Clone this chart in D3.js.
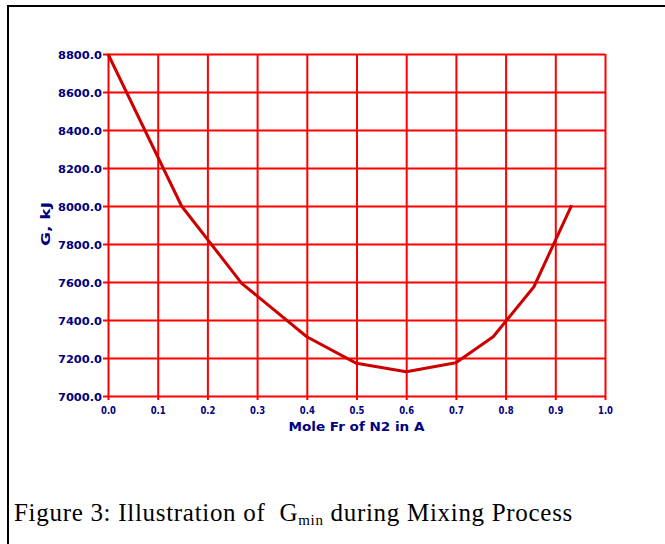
<!DOCTYPE html>
<html>
<head>
<meta charset="utf-8">
<script src="https://cdn.jsdelivr.net/npm/d3@7"></script>
<style>
  body { margin: 0; background: #fff; }
  svg { display: block; }
</style>
</head>
<body>
<svg id="chart" width="665" height="544"></svg>
<script>
// values
const moleFr = [0, 0.148, 0.269, 0.4, 0.5, 0.6, 0.7, 0.775, 0.857, 0.933];
const gibbs = [8800, 8000, 7593, 7312, 7172, 7128, 7175, 7312, 7575, 8005];
const xTicks = [0, 0.1, 0.2, 0.3, 0.4, 0.5, 0.6, 0.7, 0.8, 0.9, 1.0];
const yTicks = [7000, 7200, 7400, 7600, 7800, 8000, 8200, 8400, 8600, 8800];

const svg = d3.select("#chart");
const navy = "#000080";
const grid = "#ff0000";
const tickFont = "'DejaVu Sans Condensed', 'DejaVu Sans', sans-serif";

// frame round the figure
svg.append("rect")
  .attr("x", 8).attr("y", 6)
  .attr("width", 700).attr("height", 600)
  .attr("fill", "none")
  .attr("stroke", "#000")
  .attr("stroke-width", 2);

const plotL = 108, plotR = 605, plotT = 54, plotB = 396;

const x = d3.scaleLinear().domain([0, 1]).range([plotL, plotR]);
const y = d3.scaleLinear().domain([7000, 8800]).range([plotB, plotT]);

// x grid + ticks
const gx = svg.append("g")
  .attr("transform", `translate(0,${plotB})`)
  .call(d3.axisBottom(x).tickValues(xTicks).tickSize(0).tickFormat(""));
gx.select(".domain").remove();
gx.selectAll(".tick line")
  .attr("y1", 4)
  .attr("y2", -(plotB - plotT))
  .attr("stroke", grid)
  .attr("stroke-width", 2);
gx.selectAll(".tick").append("text")
  .attr("y", 18)
  .attr("fill", navy)
  .attr("text-anchor", "middle")
  .attr("font-family", tickFont)
  .attr("font-weight", "bold")
  .attr("font-size", 10)
  .attr("textLength", 15)
  .attr("lengthAdjust", "spacingAndGlyphs")
  .text(d => d3.format(".1f")(d));

// y grid + ticks
const gy = svg.append("g")
  .attr("transform", `translate(${plotL},0)`)
  .call(d3.axisLeft(y).tickValues(yTicks).tickSize(0).tickFormat(""));
gy.select(".domain").remove();
gy.selectAll(".tick line")
  .attr("x1", -5)
  .attr("x2", plotR - plotL)
  .attr("stroke", grid)
  .attr("stroke-width", 2);
gy.selectAll(".tick").append("text")
  .attr("x", -6)
  .attr("y", 4)
  .attr("fill", navy)
  .attr("text-anchor", "end")
  .attr("font-family", tickFont)
  .attr("font-weight", "bold")
  .attr("font-size", 10)
  .attr("textLength", 44)
  .attr("lengthAdjust", "spacingAndGlyphs")
  .text(d => d3.format(".1f")(d));

// axis titles
svg.append("text")
  .attr("x", x(0.5))
  .attr("y", 431)
  .attr("text-anchor", "middle")
  .attr("fill", navy)
  .attr("font-family", tickFont)
  .attr("font-weight", "bold")
  .attr("font-size", 12)
  .attr("textLength", 136)
  .attr("lengthAdjust", "spacingAndGlyphs")
  .text("Mole Fr of N2 in A");

svg.append("text")
  .attr("transform", "translate(50,224) rotate(-90)")
  .attr("text-anchor", "middle")
  .attr("fill", navy)
  .attr("font-family", tickFont)
  .attr("font-weight", "bold")
  .attr("font-size", 12)
  .attr("textLength", 44)
  .attr("lengthAdjust", "spacingAndGlyphs")
  .text("G, kJ");

// the curve
const line = d3.line()
  .x((d, i) => x(moleFr[i]))
  .y(d => y(d));

svg.append("path")
  .datum(gibbs)
  .attr("d", line)
  .attr("fill", "none")
  .attr("stroke", "#cc0000")
  .attr("stroke-width", 3)
  .attr("stroke-linejoin", "round");

// caption
const cap = svg.append("text")
  .attr("x", 14)
  .attr("y", 521)
  .attr("fill", "#000")
  .style("white-space", "pre")
  .attr("letter-spacing", 0.7)
  .attr("font-family", "'Liberation Serif', 'Times New Roman', serif")
  .attr("font-size", 25);
cap.append("tspan").text("Figure 3: Illustration of  G");
cap.append("tspan").attr("font-size", 15).attr("dy", 4).text("min");
cap.append("tspan").attr("dy", -4).text(" during Mixing Process");
</script>
</body>
</html>
